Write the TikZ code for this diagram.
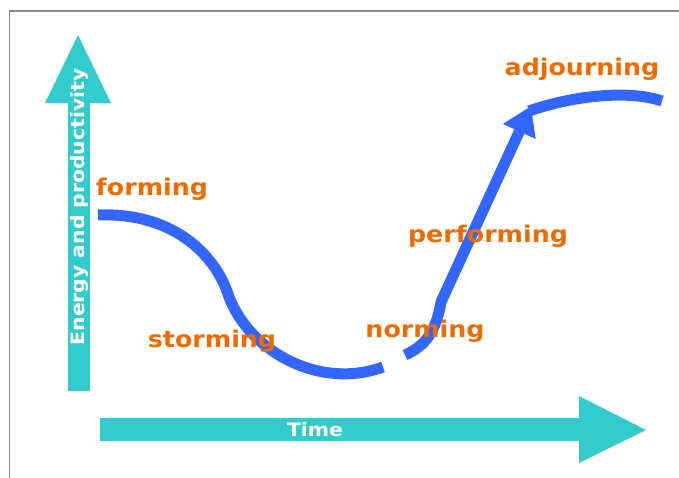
\documentclass[tikz,border=0pt]{standalone}
\usepackage{fontspec}
\setmainfont{DejaVu Sans}[FakeStretch=1.1]
\usetikzlibrary{arrows.meta}

\definecolor{axisteal}{RGB}{51,204,204}
\definecolor{curveblue}{RGB}{51,102,255}
\definecolor{stageorange}{RGB}{240,106,0}
\definecolor{framegray}{RGB}{138,138,138}

\tikzset{
  stage/.style={text=stageorange, font=\bfseries\fontsize{23}{26}\selectfont, inner sep=0pt},
  axislabel/.style={text=white, font=\bfseries\fontsize{18.5}{22}\selectfont, inner sep=0pt},
  axisfill/.style={fill=axisteal, draw=none},
  curve/.style={draw=curveblue, line width=11pt, line cap=butt, line join=round}
}

\begin{document}
\begin{tikzpicture}[x=1pt,y=-1pt]
	\useasboundingbox (0,0) rectangle (679,478);
	
	% frame
	\draw[framegray, line width=1.5pt] (9.5,490) -- (9.5,11) -- (690,11);
	
	% axes
	\fill[axisfill] (68,103) rectangle (90,391);
	\fill[axisfill] (45,103) -- (111,103) -- (78,35) -- cycle;
	\fill[axisfill] (100,418) rectangle (579,441);
	\fill[axisfill] (579,396) -- (579,463) -- (646,430) -- cycle;
	
	\node[axislabel, rotate=90] (energy) at (79,207) {Energy and productivity};
	\node[axislabel] (time) at (315,430) {Time};
	
	% curve points
	\coordinate (c0) at (98,215);
	\coordinate (c1) at (229,297);
	\coordinate (c3) at (383,367);
	\coordinate (c4) at (405,355);
	\coordinate (c5) at (441,302);
	\coordinate (c7) at (531,106);
	\coordinate (c8) at (529,111);
	\coordinate (c9) at (662,101);
	
	\draw[curve] (c0) .. controls (170,212) and (215,252) .. (c1)
	  .. controls (250,352) and (320,390) .. (c3);
	\draw[curve, -{Triangle[width=34pt,length=28pt]}] (c4) .. controls (425,346) and (436,332) .. (c5) -- (c7);
	\draw[curve] (c8) .. controls (575,95) and (630,90) .. (c9);
	
	% stages
	\node[stage] (forming) at (152,189) {forming};
	\node[stage] (storming) at (212,341) {storming};
	\node[stage] (norming) at (425,331) {norming};
	\node[stage] (performing) at (488,236) {performing};
	\node[stage] (adjourning) at (582,69) {adjourning};
\end{tikzpicture}
\end{document}
